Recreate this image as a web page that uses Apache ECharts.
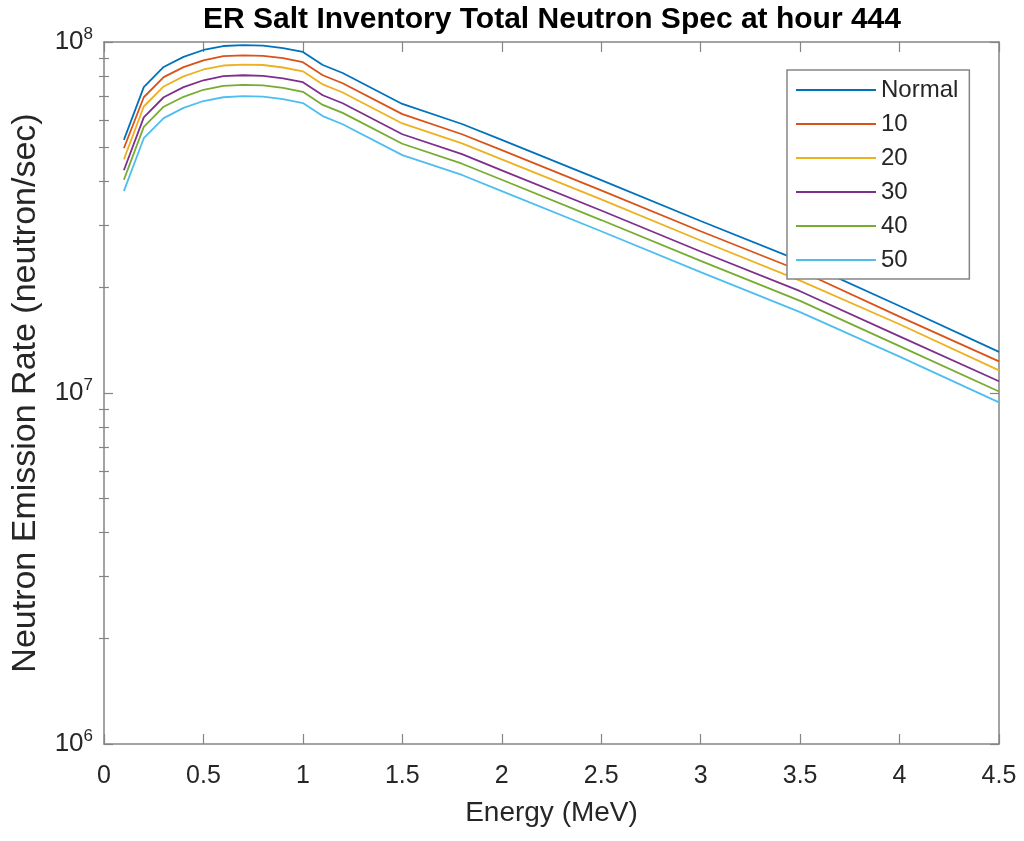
<!DOCTYPE html>
<html><head><meta charset="utf-8">
<script src="https://cdn.jsdelivr.net/npm/echarts@6/dist/echarts.min.js"></script>
<style>html,body{margin:0;padding:0;background:#fff}#c{width:1024px;height:841px}</style>
</head><body><div id="c"></div>
<script>
const energy = [0.1,0.2,0.3,0.4,0.5,0.6,0.7,0.8,0.9,1.0,1.1,1.2,1.5,1.8,2.0,2.5,3.0,3.5,4.0,4.5];
const sNormal = [5.26e7,7.44e7,8.49e7,9.07e7,9.49e7,9.74e7,9.80e7,9.77e7,9.61e7,9.37e7,8.60e7,8.16e7,6.66e7,5.84e7,5.26e7,4.04e7,3.09e7,2.38e7,1.77e7,1.31e7];
const s10 = [4.98e7,6.96e7,7.94e7,8.48e7,8.87e7,9.11e7,9.16e7,9.13e7,8.99e7,8.76e7,8.04e7,7.63e7,6.23e7,5.46e7,4.92e7,3.78e7,2.89e7,2.23e7,1.65e7,1.23e7];
const s20 = [4.63e7,6.55e7,7.47e7,7.98e7,8.35e7,8.57e7,8.62e7,8.60e7,8.46e7,8.25e7,7.57e7,7.18e7,5.86e7,5.14e7,4.63e7,3.56e7,2.72e7,2.09e7,1.57e7,1.16e7];
const s30 = [4.31e7,6.10e7,6.96e7,7.44e7,7.78e7,7.99e7,8.04e7,8.01e7,7.88e7,7.68e7,7.05e7,6.69e7,5.46e7,4.79e7,4.31e7,3.31e7,2.53e7,1.95e7,1.45e7,1.08e7];
const s40 = [4.05e7,5.73e7,6.54e7,6.98e7,7.31e7,7.50e7,7.55e7,7.52e7,7.40e7,7.21e7,6.62e7,6.28e7,5.13e7,4.50e7,4.05e7,3.11e7,2.38e7,1.83e7,1.36e7,1.01e7];
const s50 = [3.76e7,5.32e7,6.07e7,6.49e7,6.79e7,6.96e7,7.01e7,6.99e7,6.87e7,6.70e7,6.15e7,5.83e7,4.76e7,4.18e7,3.76e7,2.89e7,2.21e7,1.70e7,1.27e7,0.94e7];
const seriesNames = ['Normal','10','20','30','40','50'];
const seriesValues = [sNormal, s10, s20, s30, s40, s50];
const yMajorTicks = [1e6,1e7,1e8];
const yMinorTicks = [2e6,3e6,4e6,5e6,6e6,7e6,8e6,9e6,2e7,3e7,4e7,5e7,6e7,7e7,8e7,9e7];

const colors = ['#0072BD','#D95319','#EDB120','#7E2F8E','#77AC30','#4DBEEE'];
const axisGray = '#858585';
const textDark = '#262626';
const font = 'Liberation Sans, Arial, Helvetica, sans-serif';

const chart = echarts.init(document.getElementById('c'), null, {renderer:'canvas'});
const lineAx = {show:true, onZero:false, lineStyle:{color:axisGray, width:1.5}};
const yBase = {type:'log', logBase:10, min:1e6, max:1e8, splitLine:{show:false}};
chart.setOption({
  backgroundColor:'#fff',
  animation:false,
  color: colors,
  title:{text:'ER Salt Inventory Total Neutron Spec at hour 444', left:552, textAlign:'center', top:5, padding:0,
    textStyle:{fontFamily:font, fontWeight:'bold', fontSize:30, color:'#000'}},
  grid:{left:104, right:25, top:42, bottom:97, containLabel:false},
  legend:{orient:'vertical', left:787, top:70, padding:[8,11,7,8], borderColor:axisGray, borderWidth:1.5,
    backgroundColor:'#fff', itemWidth:80, itemHeight:14, itemGap:10,
    itemStyle:{opacity:0}, 
    textStyle:{fontFamily:font, fontSize:24, color:textDark, lineHeight:24}, data: seriesNames},
  xAxis:[
    {type:'value', min:0, max:4.5, interval:0.5, position:'bottom', axisLine:lineAx,
     axisTick:{inside:true, length:10, lineStyle:{color:axisGray, width:1.2}},
     axisLabel:{fontFamily:font, fontSize:25, color:textDark, margin:20, formatter:v=>String(v)},
     splitLine:{show:false},
     name:'Energy (MeV)', nameLocation:'middle', nameGap:55,
     nameTextStyle:{fontFamily:font, fontSize:28, color:textDark}},
    {type:'value', min:0, max:4.5, interval:0.5, position:'top', axisLine:lineAx,
     axisTick:{inside:true, length:10, lineStyle:{color:axisGray, width:1.2}},
     axisLabel:{show:false}, splitLine:{show:false}}
  ],
  yAxis:[
    Object.assign({}, yBase, {position:'left', axisLine:lineAx,
     axisTick:{inside:true, length:9, customValues:yMajorTicks, lineStyle:{color:axisGray, width:1.2}},
     axisLabel:{customValues:yMajorTicks, margin:11, color:textDark,
       formatter:v=>'{b|10}{s|'+Math.round(Math.log10(v))+'}',
       rich:{b:{fontFamily:font, fontSize:26, color:textDark}, s:{fontFamily:font, fontSize:17, color:textDark, padding:[0,0,15,0]}}},
     name:'Neutron Emission Rate (neutron/sec)', nameLocation:'middle', nameGap:61,
     nameTextStyle:{fontFamily:font, fontSize:34, color:textDark}}),
    Object.assign({}, yBase, {position:'left', axisLine:{show:false},
     axisTick:{inside:true, length:5, customValues:yMinorTicks, lineStyle:{color:axisGray, width:1.2}},
     axisLabel:{show:false}}),
    Object.assign({}, yBase, {position:'right', axisLine:lineAx,
     axisTick:{inside:true, length:9, customValues:yMajorTicks, lineStyle:{color:axisGray, width:1.2}},
     axisLabel:{show:false}}),
    Object.assign({}, yBase, {position:'right', axisLine:{show:false},
     axisTick:{inside:true, length:5, customValues:yMinorTicks, lineStyle:{color:axisGray, width:1.2}},
     axisLabel:{show:false}})
  ],
  series: seriesNames.map((n,k)=>({
    name:n, type:'line', xAxisIndex:0, yAxisIndex:0, symbol:'none', smooth:false,
    lineStyle:{width:1.8, color:colors[k]}, itemStyle:{color:colors[k]},
    data: energy.map((e,i)=>[e, seriesValues[k][i]])
  }))
});
</script></body></html>
